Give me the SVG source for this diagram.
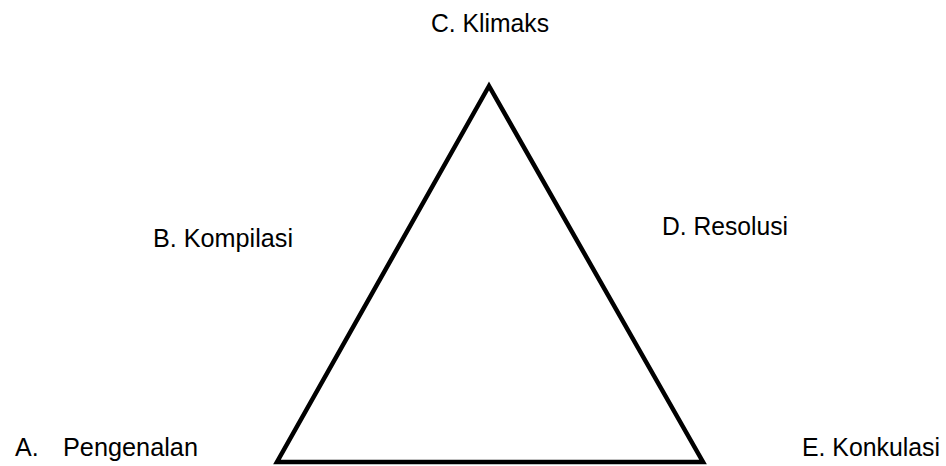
<svg xmlns="http://www.w3.org/2000/svg" width="946" height="466" viewBox="0 0 946 466">
  <style>
    .lbl { font-family: "Liberation Sans", Arial, sans-serif; font-size: 25px; fill: #000; }
    .tri { fill: none; stroke: #000; stroke-width: 4.5; stroke-linejoin: miter; }
  </style>
  <rect width="946" height="466" fill="#fff"/>
  <g id="connectors">
    <polygon class="tri" points="489,86 277,462 703,462"/>
  </g>
  <g id="node-a">
    <text class="lbl" x="15" y="456">A.</text>
    <text class="lbl" x="63" y="456" textLength="135" lengthAdjust="spacingAndGlyphs">Pengenalan</text>
  </g>
  <g id="node-b">
    <text class="lbl" x="153" y="247" textLength="140" lengthAdjust="spacingAndGlyphs">B. Kompilasi</text>
  </g>
  <g id="node-c">
    <text class="lbl" x="431" y="32" textLength="118" lengthAdjust="spacingAndGlyphs">C. Klimaks</text>
  </g>
  <g id="node-d">
    <text class="lbl" x="662" y="235" textLength="126" lengthAdjust="spacingAndGlyphs">D. Resolusi</text>
  </g>
  <g id="node-e">
    <text class="lbl" x="802" y="456" textLength="138" lengthAdjust="spacingAndGlyphs">E. Konkulasi</text>
  </g>
</svg>
